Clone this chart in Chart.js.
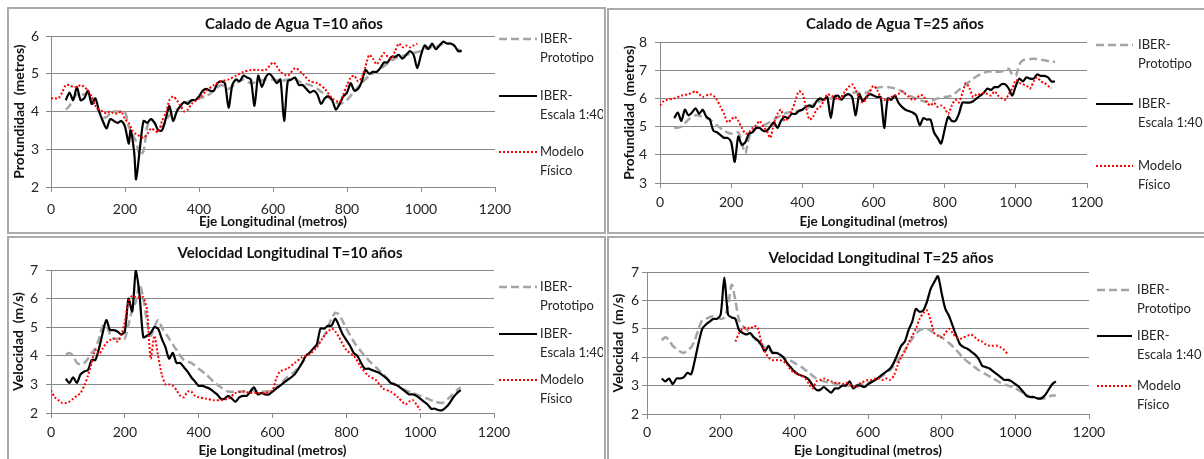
<!DOCTYPE html>
<html>
<head>
<meta charset="utf-8">
<script src="https://cdn.jsdelivr.net/npm/chart.js@4.4.0/dist/chart.umd.min.js"></script>
<style>
body { margin: 0; background: #fff; }
#page { position: relative; width: 1204px; height: 459px; overflow: hidden; }
.panel { position: absolute; border: 2px solid #ababab; box-sizing: border-box; }
canvas { position: absolute; }
</style>
</head>
<body>
<div id="page">
    <div class="panel" style="left:7px;top:7px;width:599px;height:227px"></div>
    <div class="panel" style="left:607px;top:8px;width:600px;height:226px"></div>
    <div class="panel" style="left:7px;top:236px;width:599px;height:240px"></div>
    <div class="panel" style="left:607px;top:236px;width:600px;height:240px"></div>
    <canvas id="caladoT10" width="593" height="221" style="left:10px;top:10px"></canvas>
    <canvas id="caladoT25" width="594" height="221" style="left:610px;top:10px"></canvas>
    <canvas id="velocidadT10" width="593" height="220" style="left:10px;top:239px"></canvas>
    <canvas id="velocidadT25" width="594" height="220" style="left:610px;top:239px"></canvas>
</div>
<script>
// [distancia (m), valor]
const calado10Prototipo = [[40,4.05],[50,4.15],[60,4.35],[70,4.45],[80,4.45],[90,4.45],[100,4.5],[110,4.35],[120,4.15],[130,4.0],[140,3.85],[150,3.85],[160,3.95],[170,4.0],[180,4.0],[190,4.0],[200,4.0],[210,3.6],[220,3.4],[230,3.2],[240,2.85],[250,2.95],[260,3.6],[270,3.8],[280,3.7],[300,3.6],[320,3.9],[340,4.05],[360,4.2],[380,4.3],[400,4.35],[420,4.4],[440,4.55],[460,4.7],[480,4.6],[500,4.75],[520,4.85],[540,4.75],[560,4.8],[580,4.85],[600,4.85],[620,4.8],[640,4.85],[660,4.85],[680,4.75],[700,4.7],[720,4.6],[740,4.45],[760,4.3],[780,4.2],[800,4.3],[820,4.55],[840,4.75],[860,4.95],[880,5.05],[900,5.2],[920,5.35],[940,5.45],[960,5.5],[980,5.55],[1000,5.6],[1020,5.7],[1040,5.7],[1060,5.8],[1080,5.8],[1100,5.65],[1110,5.6]];
const calado10Escala = [[40,4.3],[50,4.5],[60,4.3],[70,4.65],[80,4.3],[90,4.35],[100,4.55],[110,4.2],[120,4.35],[130,4.0],[140,3.75],[150,3.55],[160,3.8],[170,3.75],[180,3.7],[190,3.75],[200,3.6],[210,3.15],[215,3.5],[225,2.9],[230,2.2],[240,3.0],[250,3.75],[260,3.7],[270,3.8],[280,3.7],[290,3.5],[300,3.5],[310,3.8],[320,4.15],[330,3.75],[340,4.0],[350,4.15],[360,4.25],[370,4.2],[380,4.3],[390,4.3],[400,4.4],[410,4.55],[420,4.6],[430,4.55],[440,4.55],[450,4.75],[460,4.8],[470,4.75],[480,4.1],[490,4.7],[500,4.85],[510,4.8],[520,4.95],[530,4.9],[540,4.85],[550,4.15],[560,4.95],[570,4.65],[580,4.9],[590,5.0],[600,4.9],[610,4.75],[620,4.85],[630,3.75],[640,4.8],[650,4.85],[660,4.9],[670,4.7],[680,4.7],[690,4.6],[700,4.5],[710,4.55],[720,4.45],[730,4.2],[740,4.35],[750,4.4],[760,4.3],[770,4.05],[780,4.2],[790,4.4],[800,4.5],[810,4.75],[820,4.55],[830,4.6],[840,4.8],[850,5.1],[860,5.0],[870,5.05],[880,5.05],[890,5.15],[900,5.3],[910,5.3],[920,5.45],[930,5.45],[940,5.5],[950,5.4],[960,5.5],[970,5.6],[980,5.5],[990,5.15],[1000,5.5],[1010,5.75],[1020,5.65],[1030,5.8],[1040,5.65],[1050,5.75],[1060,5.85],[1070,5.8],[1080,5.8],[1090,5.75],[1100,5.6],[1110,5.6]];
const calado10Modelo = [[0,4.35],[10,4.35],[20,4.35],[30,4.5],[40,4.7],[50,4.7],[60,4.65],[70,4.65],[80,4.7],[90,4.65],[100,4.55],[110,4.4],[120,4.15],[130,4.05],[140,4.0],[150,3.95],[160,4.0],[170,3.95],[180,3.95],[190,4.0],[200,3.8],[210,3.7],[220,3.5],[230,3.4],[240,3.35],[250,3.3],[260,3.4],[270,3.55],[280,3.5],[290,3.45],[300,3.75],[310,3.95],[320,4.3],[330,4.4],[340,4.3],[350,4.15],[360,4.0],[370,4.05],[380,4.2],[400,4.35],[420,4.55],[440,4.7],[460,4.8],[480,4.85],[500,4.95],[520,5.05],[540,5.1],[560,5.1],[580,5.1],[600,5.3],[610,5.2],[620,5.05],[640,4.95],[660,5.15],[680,5.0],[700,4.8],[720,4.75],[740,4.6],[760,4.35],[780,4.25],[790,4.45],[800,4.7],[810,4.9],[820,4.95],[830,4.8],[840,4.9],[850,5.2],[860,5.5],[870,5.4],[880,5.25],[890,5.4],[900,5.55],[910,5.45],[920,5.4],[930,5.6],[940,5.8],[950,5.7],[960,5.75],[970,5.7],[980,5.75],[990,5.8]];

const calado25Prototipo = [[40,4.95],[60,5.0],[80,5.25],[100,5.4],[120,5.35],[140,5.25],[160,5.05],[180,4.85],[200,4.75],[220,4.8],[230,4.4],[240,4.05],[250,4.6],[260,4.85],[280,5.0],[300,5.1],[320,5.25],[340,5.4],[360,5.5],[380,5.55],[400,5.6],[420,5.7],[440,5.85],[460,5.95],[480,6.0],[500,6.05],[520,6.1],[540,6.2],[560,6.2],[580,6.2],[600,6.35],[620,6.4],[640,6.4],[660,6.35],[680,6.25],[700,6.1],[720,6.0],[740,5.9],[760,5.9],[780,6.0],[800,6.05],[820,6.1],[840,6.3],[860,6.5],[880,6.7],[900,6.85],[920,6.95],[940,6.95],[960,6.95],[980,7.05],[990,6.85],[1000,6.8],[1010,7.2],[1020,7.35],[1040,7.4],[1060,7.4],[1080,7.35],[1100,7.3],[1110,7.3]];
const calado25Escala = [[40,5.3],[50,5.5],[60,5.2],[70,5.6],[80,5.4],[90,5.5],[100,5.65],[110,5.45],[120,5.6],[130,5.35],[140,5.25],[150,4.85],[160,4.8],[170,4.7],[180,4.6],[190,4.6],[200,4.45],[210,3.75],[220,4.65],[230,4.35],[240,4.45],[250,4.75],[260,4.8],[270,4.95],[280,4.95],[290,4.85],[300,4.85],[310,5.0],[320,5.15],[330,4.95],[340,5.2],[350,5.35],[360,5.3],[370,5.45],[380,5.45],[390,5.55],[400,5.6],[410,5.7],[420,5.75],[430,5.7],[440,5.9],[450,6.0],[460,5.95],[470,6.05],[480,5.3],[490,6.05],[500,6.1],[510,5.95],[520,6.1],[530,6.15],[540,6.05],[550,5.4],[560,6.15],[570,5.9],[580,6.05],[590,6.15],[600,6.1],[610,6.05],[620,6.05],[630,4.95],[640,6.0],[650,5.95],[660,6.1],[670,5.85],[680,5.7],[690,5.6],[700,5.55],[710,5.5],[720,5.4],[730,5.05],[740,5.3],[750,5.25],[760,5.25],[770,4.8],[780,4.6],[790,4.4],[800,4.9],[810,5.35],[820,5.2],[830,5.2],[840,5.45],[850,5.85],[860,5.85],[870,5.85],[880,5.9],[890,6.0],[900,6.1],[910,6.2],[920,6.35],[930,6.3],[940,6.4],[950,6.4],[960,6.5],[970,6.5],[980,6.35],[990,6.1],[1000,6.45],[1010,6.7],[1020,6.6],[1030,6.75],[1040,6.7],[1050,6.7],[1060,6.85],[1070,6.8],[1080,6.8],[1090,6.75],[1100,6.6],[1110,6.6]];
const calado25Modelo = [[0,5.75],[10,5.9],[20,5.95],[40,6.0],[60,6.1],[80,6.15],[100,6.25],[110,6.15],[120,6.05],[140,6.15],[150,6.1],[160,5.95],[170,5.7],[180,5.45],[190,5.15],[200,5.25],[210,5.35],[220,5.2],[230,4.95],[240,4.75],[250,4.8],[260,4.95],[270,5.05],[280,5.2],[290,5.0],[300,4.85],[310,4.6],[320,5.1],[330,5.45],[340,5.6],[350,5.2],[360,5.3],[370,5.55],[380,5.9],[390,6.25],[400,6.2],[410,5.7],[420,5.25],[430,5.35],[440,5.6],[450,5.7],[460,5.9],[470,6.15],[480,6.1],[490,6.05],[500,5.95],[510,6.05],[520,6.25],[530,6.4],[540,6.5],[550,6.3],[560,6.0],[570,5.85],[580,6.0],[590,6.25],[600,6.45],[610,6.3],[620,6.05],[630,5.95],[640,5.95],[650,6.05],[660,6.1],[670,6.15],[680,6.25],[690,6.15],[700,6.05],[710,5.95],[720,6.0],[730,6.1],[740,6.1],[750,5.85],[760,5.75],[770,5.85],[780,5.7],[790,5.75],[800,5.65],[810,5.45],[820,5.75],[830,5.95],[840,5.85],[850,6.2],[860,6.55],[870,6.35],[880,6.05],[890,6.15],[900,6.15],[910,6.2],[920,6.15],[930,6.1],[940,6.25],[950,6.1],[960,6.0],[970,5.95],[980,6.15],[990,6.35],[1000,6.65],[1010,6.55],[1020,6.5],[1030,6.45],[1040,6.35],[1050,6.6],[1060,6.75],[1070,6.6],[1080,6.55],[1090,6.45],[1100,6.35]];

const velocidad10Prototipo = [[40,4.05],[50,4.1],[60,4.0],[70,3.75],[80,3.7],[90,3.75],[100,3.9],[110,4.1],[120,4.25],[130,4.6],[140,5.05],[150,5.05],[160,4.75],[170,4.6],[180,4.6],[190,4.6],[200,4.6],[210,5.1],[220,5.6],[230,5.9],[240,6.5],[250,6.0],[260,5.2],[270,4.7],[280,5.0],[290,5.25],[300,5.0],[320,4.6],[340,4.2],[360,3.85],[380,3.75],[400,3.55],[420,3.35],[440,3.1],[460,2.9],[480,2.75],[500,2.75],[520,2.75],[540,2.8],[560,2.75],[580,2.75],[600,2.8],[620,3.0],[640,3.25],[660,3.45],[680,3.75],[700,4.1],[720,4.35],[740,4.7],[760,5.3],[770,5.5],[780,5.45],[800,4.95],[820,4.5],[840,4.15],[860,3.85],[880,3.6],[900,3.35],[920,3.1],[940,2.95],[960,2.8],[980,2.7],[1000,2.6],[1020,2.5],[1040,2.4],[1060,2.35],[1080,2.55],[1100,2.8],[1110,2.9]];
const velocidad10Escala = [[40,3.2],[50,3.05],[60,3.25],[70,3.05],[80,3.35],[90,3.45],[100,3.5],[110,3.85],[120,3.85],[130,4.25],[140,4.8],[150,5.25],[160,4.9],[170,4.9],[180,4.85],[190,4.75],[200,4.85],[210,6.0],[220,5.55],[230,7.0],[240,6.1],[250,4.65],[260,4.7],[270,4.8],[280,5.0],[290,4.95],[300,4.6],[310,4.3],[320,3.9],[330,4.1],[340,3.75],[350,3.75],[360,3.6],[370,3.45],[380,3.25],[390,3.1],[400,2.95],[410,2.95],[420,2.9],[430,2.85],[440,2.75],[450,2.65],[460,2.5],[470,2.5],[480,2.6],[490,2.5],[500,2.4],[510,2.55],[520,2.6],[530,2.6],[540,2.75],[550,2.9],[560,2.65],[570,2.7],[580,2.65],[590,2.65],[600,2.75],[620,2.95],[640,3.15],[660,3.35],[680,3.75],[690,4.0],[700,4.1],[710,4.25],[720,4.4],[730,4.95],[740,4.95],[750,5.05],[760,5.05],[770,5.3],[780,5.05],[790,4.75],[800,4.55],[810,4.35],[820,4.1],[830,4.0],[840,3.75],[850,3.55],[860,3.55],[870,3.5],[880,3.45],[890,3.4],[900,3.3],[910,3.2],[920,3.05],[930,3.0],[940,2.95],[950,2.85],[960,2.75],[970,2.65],[980,2.65],[990,2.6],[1000,2.5],[1010,2.4],[1020,2.3],[1030,2.15],[1040,2.15],[1050,2.1],[1060,2.1],[1070,2.2],[1080,2.35],[1090,2.55],[1100,2.7],[1110,2.8]];
const velocidad10Modelo = [[0,2.8],[10,2.55],[20,2.45],[30,2.35],[40,2.35],[50,2.4],[60,2.5],[70,2.6],[80,2.7],[90,2.95],[100,3.3],[110,3.75],[120,4.2],[130,4.05],[140,4.25],[150,4.45],[160,4.55],[170,4.6],[180,4.5],[190,4.7],[200,5.2],[210,5.9],[220,6.1],[230,6.05],[240,6.05],[250,6.05],[260,5.6],[270,3.9],[280,4.7],[290,4.0],[300,3.35],[310,3.0],[320,3.0],[330,2.95],[340,2.8],[350,2.6],[360,2.55],[370,2.75],[380,2.75],[390,2.6],[400,2.55],[420,2.5],[440,2.45],[460,2.45],[480,2.5],[500,2.7],[520,2.75],[540,2.7],[560,2.7],[580,2.7],[600,2.8],[610,3.2],[620,3.45],[640,3.55],[660,3.75],[680,3.95],[700,4.05],[720,4.3],[740,4.7],[760,4.95],[770,4.85],[780,4.65],[800,4.2],[820,4.0],[840,3.6],[860,3.3],[880,3.15],[900,2.85],[920,2.75],[940,2.55],[960,2.3],[970,2.4],[980,2.45],[990,2.3],[1000,2.1]];

const velocidad25Prototipo = [[40,4.6],[50,4.7],[60,4.6],[70,4.4],[80,4.3],[90,4.2],[100,4.15],[110,4.25],[120,4.35],[130,4.6],[140,5.0],[150,5.3],[160,5.35],[180,5.45],[200,5.35],[210,5.4],[220,5.8],[230,6.55],[240,6.0],[250,5.3],[260,5.1],[280,4.85],[300,4.55],[320,4.35],[340,4.2],[360,4.05],[380,3.95],[400,3.8],[420,3.65],[440,3.45],[460,3.25],[480,3.15],[500,3.1],[520,3.05],[540,3.0],[560,3.0],[580,3.05],[600,3.1],[620,3.2],[640,3.35],[660,3.55],[680,3.85],[700,4.25],[720,4.65],[740,4.95],[760,5.0],[780,4.85],[800,4.7],[820,4.5],[840,4.25],[860,3.95],[880,3.75],[900,3.55],[920,3.4],[940,3.25],[960,3.1],[980,3.0],[1000,2.9],[1020,2.75],[1040,2.6],[1060,2.55],[1080,2.55],[1100,2.65],[1110,2.65]];
const velocidad25Escala = [[40,3.25],[50,3.15],[60,3.25],[70,3.05],[80,3.25],[90,3.25],[100,3.3],[110,3.45],[120,3.4],[130,3.9],[140,4.5],[150,5.0],[160,5.15],[170,5.25],[180,5.35],[190,5.35],[200,5.5],[210,6.8],[220,5.5],[230,5.4],[240,5.35],[250,4.95],[260,4.85],[270,4.8],[280,4.85],[290,4.7],[300,4.6],[310,4.45],[320,4.2],[330,4.4],[340,4.15],[350,4.15],[360,4.1],[370,4.0],[380,3.8],[390,3.65],[400,3.5],[410,3.4],[420,3.35],[430,3.3],[440,3.2],[450,3.0],[460,2.85],[470,2.85],[480,2.95],[490,2.85],[500,2.75],[510,2.9],[520,2.9],[530,3.0],[540,3.0],[550,3.15],[560,2.9],[570,3.0],[580,3.0],[590,2.95],[600,3.05],[620,3.2],[640,3.4],[660,3.6],[670,3.8],[680,4.1],[690,4.4],[700,4.55],[710,4.95],[720,5.25],[730,5.7],[740,5.6],[750,5.65],[760,5.95],[770,6.4],[780,6.65],[790,6.85],[800,6.25],[810,5.7],[820,5.45],[830,5.1],[840,4.75],[850,4.45],[860,4.35],[870,4.3],[880,4.2],[890,4.1],[900,3.95],[910,3.7],[920,3.65],[930,3.6],[940,3.5],[950,3.4],[960,3.3],[970,3.2],[980,3.2],[990,3.15],[1000,3.05],[1010,2.95],[1020,2.8],[1030,2.65],[1040,2.6],[1050,2.6],[1060,2.55],[1070,2.55],[1080,2.65],[1090,2.85],[1100,3.05],[1110,3.15]];
const velocidad25Modelo = [[240,4.55],[250,4.85],[260,5.0],[270,5.05],[280,5.0],[290,5.1],[300,5.05],[310,4.55],[320,4.2],[330,4.0],[340,3.9],[350,3.9],[360,3.9],[370,3.85],[380,3.75],[390,3.55],[400,3.45],[410,3.4],[420,3.35],[430,3.25],[440,3.05],[450,2.9],[460,3.15],[470,3.2],[480,3.25],[490,3.2],[500,3.15],[510,3.1],[520,3.1],[530,3.05],[540,3.1],[550,3.05],[560,2.95],[570,2.95],[580,3.1],[590,3.15],[600,3.2],[610,3.2],[620,3.25],[630,3.25],[640,3.2],[650,3.25],[660,3.2],[670,3.35],[680,3.7],[690,4.0],[700,4.2],[710,4.5],[720,4.75],[730,5.0],[740,5.35],[750,5.55],[760,5.65],[770,5.3],[780,4.85],[790,4.75],[800,4.7],[810,4.85],[820,5.0],[830,4.85],[840,4.7],[850,4.65],[860,4.7],[870,4.75],[880,4.8],[890,4.7],[900,4.6],[910,4.55],[920,4.45],[930,4.4],[940,4.4],[950,4.4],[960,4.35],[970,4.25],[980,4.1]];

const seriesNames = [["IBER-", "Prototipo"], ["IBER-", "Escala 1:40"], ["Modelo", "Físico"]];
const xTitle = "Eje Longitudinal (metros)";

const GRID = "#8a8a8a";
const TEXT = "#262626";

// titulo y leyenda a la derecha
const panelText = {
    id: "panelText",
    afterDraw(chart, args, opts) {
        const ctx = chart.ctx;
        ctx.save();
        ctx.fillStyle = "#111111";
        ctx.font = "bold 15px Lato";
        ctx.textAlign = "center";
        ctx.textBaseline = "middle";
        ctx.fillText(opts.title, opts.titleX, opts.titleY);

        ctx.font = "13px Lato";
        ctx.textAlign = "left";
        ctx.fillStyle = TEXT;
        chart.data.datasets.forEach(function (ds, i) {
            let y = opts.legendY[i];
            ctx.strokeStyle = ds.borderColor;
            ctx.lineWidth = ds.borderWidth;
            ctx.setLineDash(ds.borderDash || []);
            ctx.beginPath();
            ctx.moveTo(opts.lineX[0], y);
            ctx.lineTo(opts.lineX[1], y);
            ctx.stroke();
            ctx.setLineDash([]);
            seriesNames[i].forEach(function (t, k) {
                ctx.fillText(t, opts.textX, y + k * 19);
            });
        });
        ctx.restore();
    }
};

function drawPanel(id, series, yMin, yMax, yTitle, box) {
    new Chart(id, {
        type: "line",
        data: {
            datasets: [{
                label: "IBER-Prototipo",
                data: series[0],
                borderColor: "#a5a5a5",
                borderWidth: 2.5,
                borderDash: [8, 4],
                order: 3
            },
            {
                label: "IBER-Escala 1:40",
                data: series[1],
                borderColor: "#000000",
                borderWidth: 2.2,
                order: 2
            },
            {
                label: "Modelo Físico",
                data: series[2],
                borderColor: "#ff0000",
                borderWidth: 2,
                borderDash: [2, 2],
                order: 1
            }]
        },
        options: {
            responsive: false,
            animation: false,
            devicePixelRatio: 1,
            elements: {
                point: { radius: 0 },
                line: { tension: 0.25 }
            },
            layout: {
                padding: { left: 0, top: box.top, right: box.right, bottom: 0 }
            },
            plugins: {
                legend: { display: false },
                tooltip: { enabled: false },
                panelText: box.text
            },
            scales: {
                x: {
                    type: "linear",
                    min: 0,
                    max: 1200,
                    ticks: {
                        stepSize: 200,
                        color: TEXT,
                        font: { family: "Lato", size: 14 },
                        padding: box.xPad,
                        callback: function (v) { return String(v); }
                    },
                    grid: { drawOnChartArea: false, tickLength: 5, color: GRID },
                    border: { color: GRID },
                    title: {
                        display: true,
                        text: xTitle,
                        color: "#111111",
                        font: { family: "Lato", size: 13.5, weight: "bold" },
                        padding: { top: 0, bottom: box.xTitlePad }
                    },
                    afterFit: function (s) { s.height = box.xHeight; }
                },
                y: {
                    min: yMin,
                    max: yMax,
                    ticks: { stepSize: 1, color: TEXT, font: { family: "Lato", size: 14 }, padding: box.yPad },
                    grid: { tickLength: 5, color: GRID },
                    border: { color: GRID },
                    title: {
                        display: true,
                        text: yTitle,
                        color: "#111111",
                        font: { family: "Lato", size: 14, weight: "bold" },
                        padding: { top: box.yTitlePad, bottom: 0 }
                    },
                    afterFit: function (s) { s.width = box.yWidth; }
                }
            }
        },
        plugins: [panelText]
    });
}

drawPanel("caladoT10", [calado10Prototipo, calado10Escala, calado10Modelo], 2, 6, "Profundidad  (metros)", {
    top: 26, right: 108, yWidth: 41, xHeight: 44, xPad: 9, yPad: 7, xTitlePad: 1, yTitlePad: 1,
    text: { title: "Calado de Agua T=10 años", titleX: 284, titleY: 14, lineX: [489, 527], textX: 530, legendY: [29, 86, 142] }
});
drawPanel("caladoT25", [calado25Prototipo, calado25Escala, calado25Modelo], 3, 8, "Profundidad  (metros)", {
    top: 32, right: 117, yWidth: 50, xHeight: 48, xPad: 6, yPad: 8, xTitlePad: 1, yTitlePad: 11,
    text: { title: "Calado de Agua T=25 años", titleX: 285, titleY: 14, lineX: [486, 523], textX: 528, legendY: [35, 94, 156] }
});
drawPanel("velocidadT10", [velocidad10Prototipo, velocidad10Escala, velocidad10Modelo], 2, 7, "Velocidad  (m/s)", {
    top: 31, right: 109, yWidth: 41, xHeight: 46, xPad: 6, yPad: 8, xTitlePad: 0, yTitlePad: 0,
    text: { title: "Velocidad Longitudinal T=10 años", titleX: 280, titleY: 14, lineX: [489, 527], textX: 530, legendY: [48, 95, 141] }
});
drawPanel("velocidadT25", [velocidad25Prototipo, velocidad25Escala, velocidad25Modelo], 2, 7, "Velocidad  (m/s)", {
    top: 33, right: 115, yWidth: 37, xHeight: 45, xPad: 5, yPad: 3, xTitlePad: 0, yTitlePad: 0,
    text: { title: "Velocidad Longitudinal T=25 años", titleX: 271, titleY: 19, lineX: [487, 522], textX: 527, legendY: [51, 97, 147] }
});
</script>
</body>
</html>
